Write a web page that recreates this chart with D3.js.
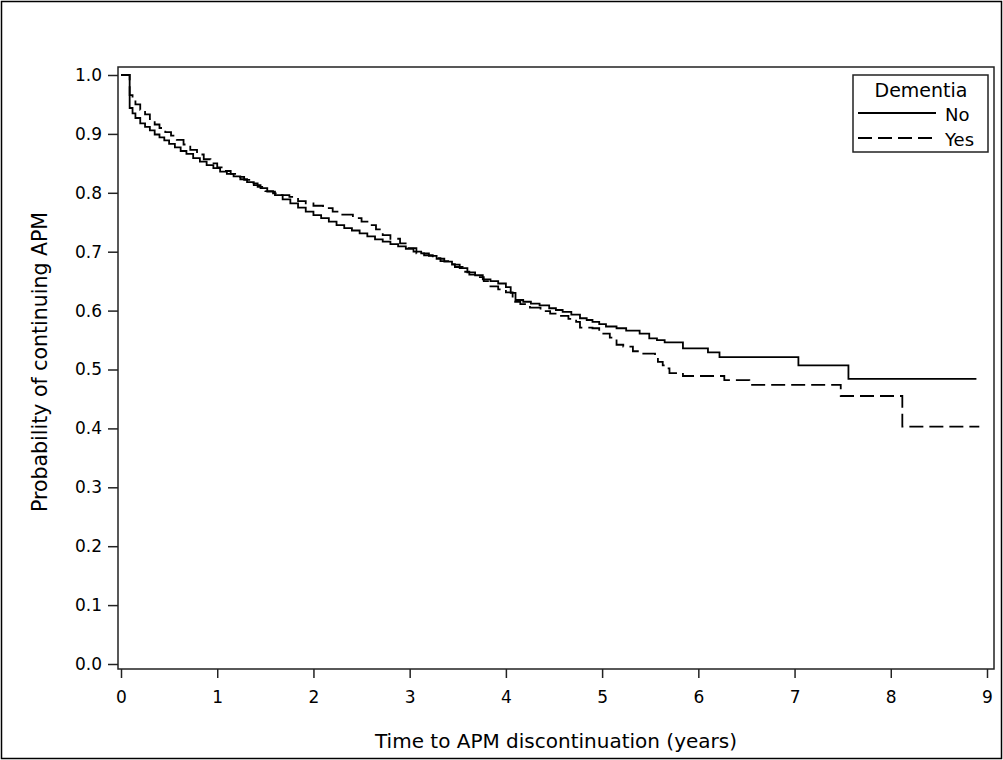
<!DOCTYPE html>
<html>
<head>
<meta charset="utf-8">
<script src="https://cdnjs.cloudflare.com/ajax/libs/d3/7.8.5/d3.min.js"></script>
<style>
  body { margin: 0; background: #fff; }
  svg text { font-family: "DejaVu Sans", Verdana, sans-serif; fill: #000; }
</style>
</head>
<body>
<div id="chartArea"><svg id="km"></svg></div>
<script>
// Kaplan-Meier: probability of continuing APM, by dementia status
const groups = ["No", "Yes"]

// Dementia = No (solid)
const timeNo = [0, 0.09, 0.12, 0.15, 0.2, 0.25, 0.3, 0.35, 0.4, 0.45, 0.5, 0.56, 0.62, 0.68, 0.75, 0.82, 0.89, 0.96,
  1.03, 1.1, 1.17, 1.24, 1.31, 1.38, 1.45, 1.52, 1.6, 1.68, 1.76, 1.84, 1.92, 2.0, 2.08, 2.16, 2.24, 2.32, 2.4, 2.48,
  2.56, 2.64, 2.72, 2.8, 2.88, 2.96, 3.04, 3.12, 3.2, 3.28, 3.36, 3.44, 3.52, 3.6, 3.68, 3.76, 3.84, 3.92, 4.0, 4.05,
  4.1, 4.18, 4.26, 4.35, 4.45, 4.52, 4.59, 4.68, 4.77, 4.84, 4.9, 4.97, 5.04, 5.15, 5.25, 5.39, 5.49, 5.57, 5.65,
  5.84, 6.1, 6.22, 7.04, 7.56, 8.89]
const survNo = [1.0, 0.944, 0.935, 0.927, 0.918, 0.912, 0.906, 0.899, 0.894, 0.889, 0.883, 0.877, 0.871, 0.866, 0.859,
  0.853, 0.847, 0.842, 0.836, 0.832, 0.828, 0.823, 0.818, 0.813, 0.808, 0.802, 0.796, 0.789, 0.782, 0.775, 0.768,
  0.762, 0.757, 0.751, 0.745, 0.740, 0.736, 0.731, 0.726, 0.721, 0.717, 0.713, 0.709, 0.705, 0.700, 0.697, 0.693,
  0.688, 0.683, 0.678, 0.672, 0.665, 0.660, 0.653, 0.650, 0.646, 0.640, 0.630, 0.618, 0.615, 0.612, 0.609, 0.604,
  0.601, 0.598, 0.593, 0.587, 0.584, 0.581, 0.577, 0.573, 0.570, 0.566, 0.561, 0.553, 0.550, 0.546, 0.536, 0.529,
  0.521, 0.507, 0.484, 0.484]

// Dementia = Yes (dashed)
const timeYes = [0, 0.09, 0.12, 0.15, 0.2, 0.25, 0.3, 0.35, 0.4, 0.46, 0.52, 0.58, 0.65, 0.72, 0.79, 0.86, 0.93, 1.0,
  1.07, 1.14, 1.21, 1.28, 1.35, 1.42, 1.5, 1.58, 1.66, 1.75, 1.84, 1.92, 2.0, 2.1, 2.2, 2.3, 2.41, 2.5, 2.58, 2.65,
  2.72, 2.8, 2.9, 2.98, 3.07, 3.15, 3.24, 3.32, 3.4, 3.47, 3.55, 3.62, 3.7, 3.77, 3.83, 3.92, 4.0, 4.07, 4.15, 4.25,
  4.36, 4.46, 4.56, 4.65, 4.73, 4.77, 4.9, 4.97, 5.08, 5.15, 5.22, 5.32, 5.41, 5.55, 5.58, 5.63, 5.67, 5.70, 5.84,
  6.27, 6.53, 7.48, 8.12, 8.92]
const survYes = [1.0, 0.966, 0.957, 0.950, 0.941, 0.933, 0.925, 0.916, 0.910, 0.903, 0.897, 0.890, 0.882, 0.873, 0.865,
  0.857, 0.850, 0.843, 0.837, 0.832, 0.827, 0.822, 0.816, 0.810, 0.803, 0.799, 0.796, 0.793, 0.786, 0.782, 0.778,
  0.774, 0.768, 0.763, 0.757, 0.751, 0.745, 0.738, 0.728, 0.722, 0.714, 0.706, 0.697, 0.694, 0.689, 0.684, 0.679,
  0.674, 0.666, 0.661, 0.657, 0.650, 0.641, 0.636, 0.631, 0.615, 0.611, 0.605, 0.599, 0.595, 0.591, 0.586, 0.581,
  0.571, 0.570, 0.561, 0.554, 0.542, 0.539, 0.531, 0.527, 0.522, 0.513, 0.507, 0.502, 0.494, 0.489, 0.482, 0.474,
  0.455, 0.403, 0.403]

const xTicks = [0, 1, 2, 3, 4, 5, 6, 7, 8, 9]
const yTicks = [0, 0.1, 0.2, 0.3, 0.4, 0.5, 0.6, 0.7, 0.8, 0.9, 1.0]

const W = 1003, H = 760
const frame = { left: 118, right: 994, top: 67, bottom: 669 }

const svg = d3.select('#km').attr('width', W).attr('height', H)

// outer border of the picture
svg.append('rect')
  .attr('x', 1.5).attr('y', 1.5)
  .attr('width', W - 3).attr('height', H - 3)
  .attr('fill', 'none').attr('stroke', '#000').attr('stroke-width', 1.5)

const x = d3.scaleLinear().domain([0, 9]).range([121, 987])
const y = d3.scaleLinear().domain([0, 1]).range([664, 75])

// plot frame
svg.append('rect')
  .attr('x', frame.left).attr('y', frame.top)
  .attr('width', frame.right - frame.left).attr('height', frame.bottom - frame.top)
  .attr('fill', 'none').attr('stroke', '#222').attr('stroke-width', 1.5)

/////////////// axes ///////////////
svg.append('g')
  .attr('transform', `translate(0,${frame.bottom})`)
  .call(d3.axisBottom(x).tickValues(xTicks).tickSize(9).tickPadding(13).tickFormat(d3.format('d')))
svg.append('g')
  .attr('transform', `translate(${frame.left},0)`)
  .call(d3.axisLeft(y).tickValues(yTicks).tickSize(10).tickPadding(6).tickFormat(d3.format('.1f')))

svg.selectAll('.domain').remove()
svg.selectAll('.tick line').attr('stroke', '#222').attr('stroke-width', 1.5)
svg.selectAll('.tick text').style('font-size', '17px').attr('fill', '#000')

svg.append('text')
  .attr('x', (frame.left + frame.right) / 2).attr('y', 748)
  .attr('text-anchor', 'middle')
  .style('font-size', '20px')
  .text('Time to APM discontinuation (years)')

svg.append('text')
  .attr('transform', `translate(47,${(frame.top + frame.bottom) / 2 - 6}) rotate(-90)`)
  .attr('text-anchor', 'middle')
  .style('font-size', '20.5px')
  .text('Probability of continuing APM')

/////////////// curves ///////////////
const series = [
  { name: groups[0], pts: timeNo.map((t, i) => [t, survNo[i]]), dash: null },
  { name: groups[1], pts: timeYes.map((t, i) => [t, survYes[i]]), dash: '14,6' }
]

const line = d3.line()
  .x(d => x(d[0]))
  .y(d => y(d[1]))
  .curve(d3.curveStepAfter)

svg.append('g')
  .selectAll('path')
  .data(series)
  .join('path')
    .attr('d', d => line(d.pts))
    .attr('fill', 'none')
    .attr('stroke', '#000')
    .attr('stroke-width', 1.8)
    .attr('stroke-dasharray', d => d.dash)

/////////////// legend ///////////////
const lg = svg.append('g').attr('transform', 'translate(853,75)')
lg.append('rect')
  .attr('width', 135).attr('height', 77)
  .attr('fill', '#fff').attr('stroke', '#222').attr('stroke-width', 1.5)
lg.append('text')
  .attr('x', 68).attr('y', 22)
  .attr('text-anchor', 'middle')
  .style('font-size', '19px')
  .text('Dementia')

const item = lg.selectAll('.legend')
  .data(series)
  .join('g')
  .attr('class', 'legend')
  .attr('transform', (d, i) => `translate(0,${38 + i * 25})`)
item.append('line')
  .attr('x1', 5).attr('x2', 83)
  .attr('stroke', '#000').attr('stroke-width', 1.8)
  .attr('stroke-dasharray', d => d.dash)
item.append('text')
  .attr('x', 92).attr('y', 7.5)
  .style('font-size', '18px')
  .text(d => d.name)
</script>
</body>
</html>
